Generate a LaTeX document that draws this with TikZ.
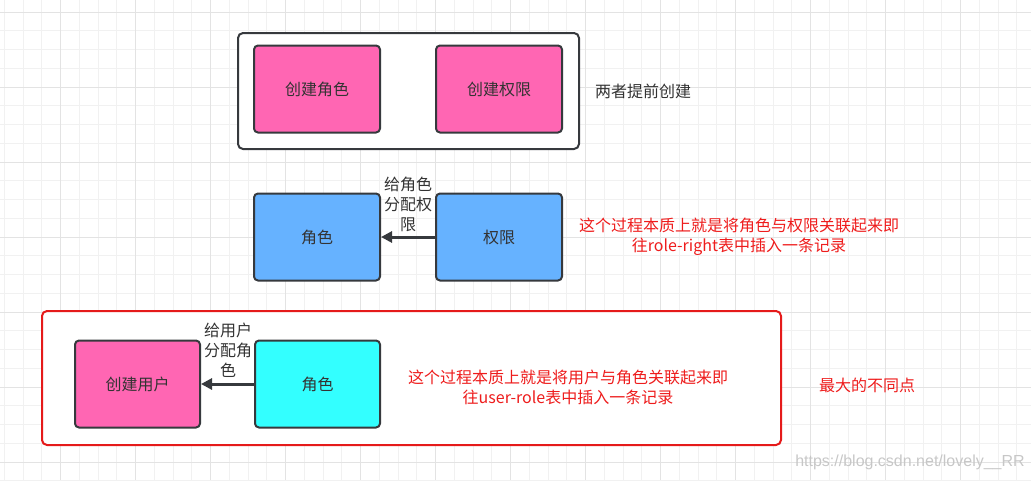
\documentclass[tikz,border=0pt]{standalone}
\usepackage{fontspec}
\newfontfamily\cjk{Noto Sans CJK SC}
\setsansfont{Liberation Sans}
\usetikzlibrary{arrows.meta}

\definecolor{pinkfill}{HTML}{FF66B3}
\definecolor{bluefill}{HTML}{66B2FF}
\definecolor{cyanfill}{HTML}{33FFFF}
\definecolor{edgegray}{HTML}{36393D}
\definecolor{notered}{HTML}{EE1C1C}
\definecolor{framered}{HTML}{E51A1A}
\definecolor{gridminor}{HTML}{F1F1F1}
\definecolor{gridmajor}{HTML}{E3E3E3}

\begin{document}
\begin{tikzpicture}[x=1pt,y=-1pt,
  card/.style={draw=edgegray,line width=2pt,rounded corners=4pt,
    minimum width=126pt,minimum height=87pt,inner sep=0pt,
    font=\cjk\fontsize{16}{20}\selectfont,text=black!80},
  frame/.style={line width=2pt,rounded corners=5pt,inner sep=0pt},
  note/.style={font=\cjk\fontsize{16}{20}\selectfont,align=center,text=notered},
  tag/.style={font=\cjk\fontsize{16}{20}\selectfont,align=center,text=black!80},
  link/.style={draw=edgegray,line width=3pt,
    -{Triangle[length=11pt,width=11pt]}}]
  \useasboundingbox (0,0) rectangle (1031,480);

  % grid paper
  \foreach \k in {0,...,54}
    \draw[gridminor,line width=0.8pt] ({4.2+\k*18.75},0) -- ({4.2+\k*18.75},480);
  \foreach \k in {0,...,25}
    \draw[gridminor,line width=0.8pt] (0,{12+\k*18.75}) -- (1031,{12+\k*18.75});
  \foreach \k in {3,7,...,55}
    \draw[gridmajor,line width=0.8pt] ({4.2+\k*18.75},0) -- ({4.2+\k*18.75},480);
  \foreach \k in {0,4,...,24}
    \draw[gridmajor,line width=0.8pt] (0,{12+\k*18.75}) -- (1031,{12+\k*18.75});

  % frames
  \node[frame,draw=edgegray,fill=white,minimum width=341pt,minimum height=116pt]
    (topframe) at (408.5,91) {};
  \node[frame,draw=framered,fill=white,minimum width=739pt,minimum height=134pt]
    (userframe) at (411.5,378) {};

  % row 1
  \node[card,fill=pinkfill] (createRole) at (317,89) {创建角色};
  \node[card,fill=pinkfill] (createPerm) at (499,89) {创建权限};
  \node[tag] (bothFirst) at (643,91) {两者提前创建};

  % row 2
  \node[card,fill=bluefill] (role) at (317,237) {角色};
  \node[card,fill=bluefill] (perm) at (499,237) {权限};
  \draw[link] (perm) -- (role);
  \node[tag] (assignPerm) at (408,204) {给角色\\分配权\\限};
  \node[note] (roleNote) at (739,237)
    {这个过程本质上就是将角色与权限关联起来即\\往role-right表中插入一条记录};

  % row 3
  \node[card,fill=pinkfill,minimum width=125pt] (createUser) at (137.5,384) {创建用户};
  \node[card,fill=cyanfill,minimum width=125pt] (userRole) at (317.5,384) {角色};
  \draw[link] (userRole) -- (createUser);
  \node[tag] (assignRole) at (228,350) {给用户\\分配角\\色};
  \node[note] (userNote) at (568,387)
    {这个过程本质上就是将用户与角色关联起来即\\往user-role表中插入一条记录};
  \node[note] (biggestDiff) at (867,385) {最大的不同点};

  \node[font=\sffamily\fontsize{16}{18}\selectfont,text=black!22] (mark) at (910,462)
    {https://blog.csdn.net/lovely\_\_RR};
\end{tikzpicture}
\end{document}
